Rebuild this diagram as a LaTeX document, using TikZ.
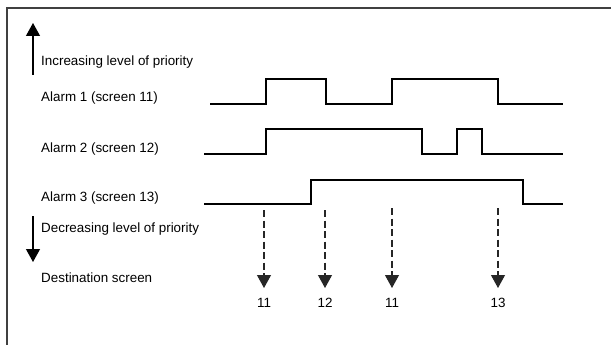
\documentclass[tikz,border=0pt]{standalone}
\usepackage{fontspec}
\setmainfont{Liberation Sans}
\usetikzlibrary{calc,arrows.meta,positioning}

\begin{document}
\begin{tikzpicture}[>=Stealth, line cap=butt, line join=miter, x=1pt, y=-1pt]
\def\tx{41}
\tikzset{
  frame/.style={line width=1.4pt, black!75},
  sig/.style={line width=1.2pt},
  prio/.style={-{Triangle[width=14pt,length=13pt]}, line width=1.2pt},
  dest/.style={-{Triangle[width=14pt,length=13pt]}, line width=1.1pt, black!85, dash pattern=on 7pt off 3.5pt},
  lab/.style={font=\fontsize{13.4}{16}\selectfont, anchor=base west, inner sep=0pt},
  num/.style={font=\fontsize{13.4}{16}\selectfont, inner sep=0pt},
}
\useasboundingbox (0,0) rectangle (611,345);

% frame (only top and left edges show)
\draw[frame] (7,345) -- (7,8) -- (611,8);

% priority arrows
\coordinate (up0) at (33,75);
\coordinate (up1) at (33,23);
\coordinate (dn0) at (33,216);
\coordinate (dn1) at (33,262);
\draw[prio] (up0) -- (up1);
\draw[prio] (dn0) -- (dn1);

% texts
\node[lab] (incr) at (\tx,66)  {Increasing level of priority};
\node[lab] (al1)  at (\tx,102) {Alarm 1 (screen 11)};
\node[lab] (al2)  at (\tx,152) {Alarm 2 (screen 12)};
\node[lab] (al3)  at (\tx,201) {Alarm 3 (screen 13)};
\node[lab] (decr) at (\tx,232) {Decreasing level of priority};
\node[lab] (dscr) at (\tx,282) {Destination screen};

% alarm signals
\draw[sig] (210,104) -- (266,104) -- (266,79) -- (326,79) -- (326,104)
  -- (392,104) -- (392,79) -- (498,79) -- (498,104) -- (563,104);
\draw[sig] (204,154) -- (266,154) -- (266,129) -- (422,129) -- (422,154)
  -- (457,154) -- (457,129) -- (482,129) -- (482,154) -- (563,154);
\draw[sig] (204,204) -- (311,204) -- (311,180) -- (523,180) -- (523,204)
  -- (563,204);

% destination screens
\coordinate (s1) at (264,210); \coordinate (e1) at (264,288);
\coordinate (s2) at (325,210); \coordinate (e2) at (325,288);
\coordinate (s3) at (392,208); \coordinate (e3) at (392,288);
\coordinate (s4) at (498,208); \coordinate (e4) at (498,288);
\draw[dest] (s1) -- (e1);
\draw[dest] (s2) -- (e2);
\draw[dest] (s3) -- (e3);
\draw[dest] (s4) -- (e4);
\node[num, anchor=base] (d1) at (264,307) {11};
\node[num, anchor=base] (d2) at (325,307) {12};
\node[num, anchor=base] (d3) at (392,307) {11};
\node[num, anchor=base] (d4) at (498,307) {13};
\end{tikzpicture}
\end{document}
